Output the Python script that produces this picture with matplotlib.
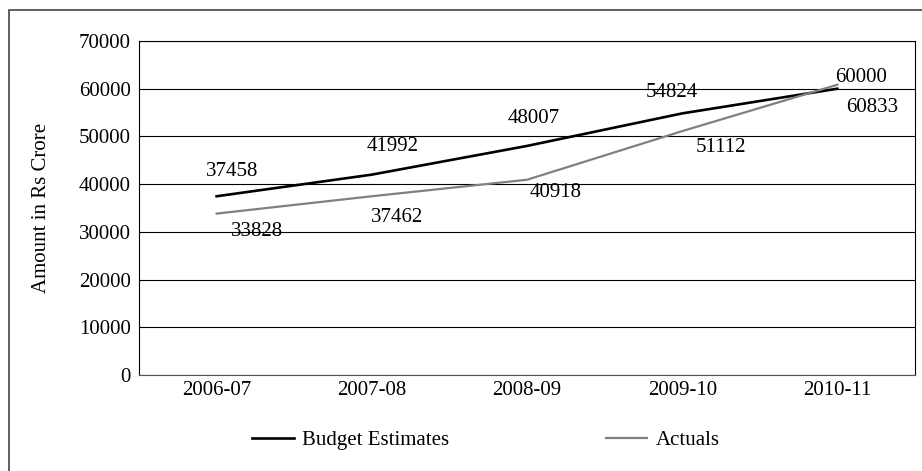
import matplotlib.pyplot as plt
from matplotlib.patches import Rectangle

plt.rcParams['font.family'] = ['Liberation Serif', 'DejaVu Serif']

years = ['2006-07', '2007-08', '2008-09', '2009-10', '2010-11']
budget_estimates = [37458, 41992, 48007, 54824, 60000]
actuals = [33828, 37462, 40918, 51112, 60833]

# label offsets in pixels (dx, dy) so the numbers sit clear of the lines
budget_offsets = [(15, 25), (21, 28), (7, 27), (-10, 21), (24, 11)]
actual_offsets = [(40, -18), (25, -21), (29, -13), (39, -16), (35, -23)]

fs = 15

fig = plt.figure(figsize=(9.22, 4.71), dpi=100)
ax = fig.add_axes([0.1508, 0.2038, 0.8416, 0.7092])

x = range(len(years))
ax.plot(x, budget_estimates, color='black', lw=1.9, label='Budget Estimates')
ax.plot(x, actuals, color='#808080', lw=1.6, label='Actuals')

for i, v in enumerate(budget_estimates):
    ax.annotate(str(v), (i, v), xytext=budget_offsets[i], textcoords='offset pixels',
                ha='center', va='center', fontsize=fs)
for i, v in enumerate(actuals):
    ax.annotate(str(v), (i, v), xytext=actual_offsets[i], textcoords='offset pixels',
                ha='center', va='center', fontsize=fs)

ax.set_xlim(-0.5, 4.5)
ax.set_ylim(0, 70000)
ax.set_yticks(range(0, 70001, 10000))
ax.set_xticks(list(x))
ax.set_xticklabels(years)
ax.tick_params(length=0, labelsize=fs)
ax.tick_params(axis='y', pad=6)
ax.tick_params(axis='x', pad=4)
ax.yaxis.grid(True, color='black', lw=0.8)
ax.set_axisbelow(True)
for s in ax.spines.values():
    s.set_color('black')
    s.set_linewidth(0.8)
ax.spines['bottom'].set_color('#555555')
ax.set_ylabel('Amount in Rs Crore', fontsize=fs, labelpad=20)

fig.legend(loc='center', bbox_to_anchor=(0.527, 1 - 440 / 471), ncol=2, frameon=False,
           fontsize=fs, handlelength=2.0, handletextpad=0.4, columnspacing=7.5)

# outer chart frame
fig.patches.append(Rectangle((9 / 922, -0.1), 1.2, 1 - 10 / 471 + 0.1,
                             transform=fig.transFigure, fill=False,
                             edgecolor='#444444', lw=1.2))

fig.savefig('out.png', dpi=100)
